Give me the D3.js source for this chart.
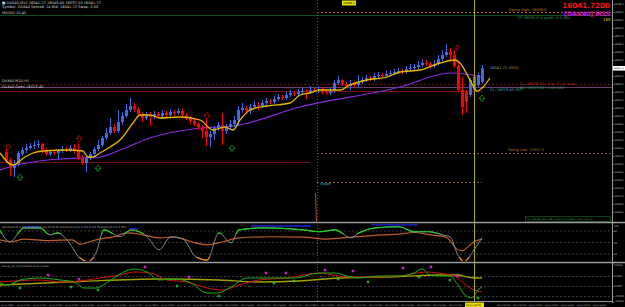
<!DOCTYPE html>
<html>
<head>
<meta charset="utf-8">
<script src="https://cdn.jsdelivr.net/npm/d3@7"></script>
<style>
  body { margin: 0; background: #000; }
  svg { display: block; }
  text { font-family: "DejaVu Sans", sans-serif; }
</style>
</head>
<body>
<div id="chart"></div>
<script>
// DAX40 M15 candles
const opens  = [15958,15950,15942,15946,15956,15960,15962,15964,15965,15966,15960,15956,15958,15957,15959,15961,15960,15962,15960,15952,
                15947,15952,15956,15961,15965,15972,15977,15983,15979,15988,15994,16000,16004,16001,15996,15992,15995,15993,15996,15994,
                15997,15995,15998,15997,15999,15995,15992,15989,15986,15983,15979,15973,15976,15982,15985,15979,15983,15986,15990,16000,
                16002,15999,16003,16005,16004,16007,16009,16008,16011,16013,16012,16015,16017,16016,16018,16019,16018,16020,16019,16021,
                16018,16017,16019,16027,16030,16026,16024,16026,16025,16028,16030,16032,16031,16034,16035,16034,16036,16037,16038,16039,
                16038,16041,16042,16043,16045,16047,16046,16044,16046,16051,16055,16058,16055,16044,16020,16018,16015,16020,16025,16028];
const highs  = [15961,15952,15950,15959,15963,15966,15967,15969,15970,15967,15962,15960,15960,15961,15964,15963,15965,15966,15967,15955,
                15954,15958,15963,15970,15974,15982,15992,15986,16000,15998,16006,16012,16007,16003,15998,15998,15998,15999,15998,16000,
                15999,16001,16000,16002,16001,15997,15994,15991,15988,15985,15992,15979,15984,15988,15997,15986,15990,15994,16004,16007,
                16004,16006,16009,16008,16010,16012,16011,16014,16016,16015,16018,16020,16019,16021,16022,16021,16024,16022,16024,16023,
                16020,16022,16030,16034,16031,16028,16030,16028,16035,16033,16035,16034,16037,16038,16037,16039,16040,16041,16042,16041,
                16044,16046,16046,16049,16051,16050,16048,16050,16055,16060,16066,16062,16060,16047,16033,16020,16032,16035,16037,16045];
const lows   = [15947,15934,15933,15944,15954,15957,15960,15961,15962,15957,15954,15954,15955,15950,15957,15958,15958,15957,15950,15945,
                15938,15950,15953,15959,15963,15970,15975,15977,15977,15985,15992,15998,15998,15994,15988,15990,15984,15991,15992,15992,
                15993,15993,15994,15995,15993,15990,15986,15984,15980,15972,15964,15963,15970,15979,15965,15976,15980,15983,15984,15997,
                15996,15996,16001,16000,16002,16005,16006,16006,16009,16010,16010,16013,16014,16014,16016,16011,16016,16018,16017,16016,
                16015,16015,16017,16025,16024,16022,16020,16023,16023,16026,16028,16029,16029,16032,16032,16032,16034,16035,16036,16036,
                16036,16039,16040,16041,16043,16044,16042,16042,16044,16049,16053,16050,16042,16018,15995,15997,16013,16018,16023,16026];
const closes = [15950,15942,15946,15957,15960,15962,15964,15965,15966,15960,15956,15958,15957,15959,15961,15960,15962,15960,15952,15947,
                15952,15956,15961,15965,15972,15977,15983,15979,15988,15994,16000,16004,16001,15996,15992,15995,15993,15996,15994,15997,
                15995,15998,15997,15999,15995,15992,15989,15986,15983,15979,15973,15976,15982,15985,15979,15983,15986,15990,16000,16002,
                15999,16003,16005,16004,16007,16009,16008,16011,16013,16012,16015,16017,16016,16018,16019,16018,16020,16019,16021,16018,
                16017,16019,16027,16030,16026,16024,16026,16025,16028,16030,16032,16031,16034,16035,16034,16036,16037,16038,16039,16038,
                16041,16042,16043,16045,16047,16046,16044,16046,16051,16055,16058,16055,16044,16020,16003,16008,16030,16033,16035,16041.72];

// moving averages: [bar index, price]
const fastMa = [[-1.5,15957],[1.75,15945],[4.75,15953],[6.75,15957],[9.25,15959],[15.25,15960],[19.25,15959],[20.5,15953],
                [21.75,15953],[23.5,15957],[26,15963],[28.5,15970],[31.75,15987],[33.5,15995],[36,15995],[38.5,15992],
                [43.5,15993],[48.5,15990],[51.75,15980],[54.75,15983],[56.75,15980],[58.5,15990],[61,16000],[65.25,16004],
                [71,16007],[73.5,16015],[76,16017],[78.5,16020],[83.5,16020],[86,16025],[90.25,16030],[95.25,16033],
                [98.5,16038],[103.5,16040],[108.5,16047],[112.25,16050],[113.5,16047],[116,16030],[117.75,16019],[119.25,16023],[121,16032]];
const slowMa = [[-1.5,15940],[2.75,15945],[6.75,15948],[13.5,15951],[19.25,15952],[23.5,15953],[28.5,15960],[36,15972],
                [48.5,15982],[56.75,15984],[73.5,16003],[98.5,16023],[111,16037],[114.75,16036],[119,16033]];

// price levels
const levelPrices = [16098, 16095, 16026, 16023, 16019, 15957, 15948, 15928];
const priceTicks = [16106,16098,16090,16082,16074,16066,16058,16050,16042,16034,16026,16018,16010,16002,
                    15994,15986,15978,15970,15962,15954,15946,15938,15930,15922,15914,15906,15898];

// arrows on the main chart: [bar index, price]
const downArrows = [[0.5,15963],[18.25,15971],[50.25,15994]];
const upArrows   = [[3.5,15933],[23,15942],[56.5,15962],[119,16012]];

// stochastic: [bar index, value]
const stochK = [[-1.5,81],[1,52],[4.5,88],[8.5,88],[11,70],[13,75],[15,60],[18.5,10],[20.5,0],[22.5,23],[24.5,83],
                [28.5,65],[31.25,83],[35.25,65],[38.25,31],[41.25,65],[44.25,59],[47.25,15],[50.25,4],[53.25,75],
                [56.25,49],[58.25,83],[64.25,88],[74.25,83],[78.25,78],[82.25,83],[86.25,62],[88.25,75],[92.25,88],
                [98.25,91],[102,78],[106,78],[109,70],[111,65],[113,17],[114.5,0],[117,31],[119,62]];
const stochD = [[-1.5,57],[1.5,52],[4.5,59],[10.5,55],[16.5,57],[18.5,46],[22.5,57],[26.5,64],[30.5,75],[34.25,70],
                [38.25,62],[42.25,64],[46.25,52],[50.25,44],[54.25,52],[58.25,62],[66.25,65],[74.25,64],[80.25,59],
                [86.25,64],[94.25,70],[98.25,72],[102,76],[106,70],[110,64],[113,31],[114,29],[117,52],[119,59]];
const stochTop = [[[4.5,91],[8.5,91]],[[31,86],[33,86]],[[61.25,93],[76.25,93]],[[91.25,96],[103,96]]];
const stochTicks = [20, 50, 80, 100];

// energy oscillator: [bar index, value]
const energyFast = [[-1.5,0.0006],[0.5,0.0002],[3.5,0.0012],[8.5,0.0016],[13.5,0.0012],[17,0.0008],[19.5,-0.0004],
                    [22.5,-0.0004],[25.5,0.0008],[28.5,0.0024],[32,0.0034],[35.25,0.0028],[38.25,0.0012],[42.25,0.0014],
                    [46.25,0.0006],[50.25,-0.0014],[52.75,-0.0014],[56.25,-0.0002],[60.25,0.0016],[66.25,0.0016],
                    [72.25,0.0016],[78.25,0.0026],[82.25,0.0026],[85.25,0.002],[88.25,0.0016],[93.25,0.002],[98.25,0.002],
                    [102,0.0026],[104,0.0034],[106,0.0022],[109,0.002],[111,0.002],[113,0.0002],[115,-0.002],[116.5,-0.0024],
                    [118,-0.0008],[119,-0.0002]];
const energySignal = [[-1.5,0.0008],[8.5,0.0012],[13.5,0.0008],[18.5,0.001],[23.5,0.0016],[28.5,0.0022],[32.25,0.0028],
                      [36.25,0.0026],[40.25,0.0012],[45.25,0.0008],[50.25,-0.0004],[54.25,-0.0008],[58.25,0.0002],
                      [63.25,0.0012],[70.25,0.0016],[78.25,0.0026],[83.25,0.002],[88.25,0.0018],[98.25,0.002],[105,0.0028],
                      [108,0.0026],[112,0.002],[114,0.0008],[117,-0.0008],[119,-0.0012]];
const energySlow = [[-1.5,0.0002],[18.5,0.0009],[38.25,0.0014],[53.25,0.0012],[63.25,0.0008],[73.25,0.001],[83.25,0.0016],
                    [98.25,0.0019],[108,0.0022],[113,0.0022],[116,0.0017],[119,0.0016]];
const energyBuy  = [[3.5,-0.0004],[16.25,-0.0002],[23,-0.0008],[42.75,0],[53.25,-0.002],[67,0.0006],[72,0.001],
                    [83,0.0014],[90.5,0.0008],[103.25,0.0018],[111,0.0012],[118,-0.0024]];
const energySell = [[10.5,0.0022],[18.25,0.0014],[34.75,0.0038],[45.75,0.0018],[65,0.0026],[70,0.0026],[79.75,0.0032],
                    [86.75,0.003],[99.25,0.0036],[106.25,0.0038],[113,0.002]];
const energyTicks = [0.0046, 0.002, 0, -0.002, -0.0032];

// time axis
const timeLabels = ["11 Jan 2023","11 Jan 10:00","11 Jan 11:00","11 Jan 12:00","11 Jan 13:00","11 Jan 14:00","11 Jan 15:00",
                    "11 Jan 16:00","11 Jan 17:00","11 Jan 18:00","11 Jan 19:00","11 Jan 20:00","11 Jan 21:00","12 Jan 02:00",
                    "12 Jan 03:00","12 Jan 04:00","12 Jan 05:00","12 Jan 06:00","12 Jan 07:00","12 Jan 08:00","12 Jan 09:00",
                    "12 Jan 10:00","12 Jan 11:00","12 Jan 12:00","12 Jan 13:00","12 Jan 14:00","12 Jan 15:00","12 Jan 16:00",
                    "12 Jan 17:00","12 Jan 18:00","12 Jan 19:00","12 Jan 20:00","12 Jan 21:00","13 Jan 02:00","13 Jan 03:00",
                    "13 Jan 04:00","13 Jan 05:00","13 Jan 06:00"];
const cursorLabel = "13 Jan 05:45";
const sessionIdx = 77.75, cursorIdx = 117;

const W = 625, H = 307, AX = 612;
const svg = d3.select('#chart').append('svg')
    .attr('width', W).attr('height', H)
    .style('background', '#000');

const x = d3.scaleLinear().domain([-1.5, 151.5]).range([0, AX]);
const y = d3.scaleLinear().domain([15888, 16110]).range([222, 0]);
const yS = d3.scaleLinear().domain([0, 100]).range([261.7, 223.3]);
const yE = d3.scaleLinear().domain([-0.0032, 0.0046]).range([302, 263]);

const defs = svg.append('defs');
[['clipMain', 0, 222], ['clipStoch', 223, 38], ['clipEnergy', 263, 38]].forEach(c => {
    defs.append('clipPath').attr('id', c[0]).append('rect')
        .attr('x', 0).attr('y', c[1]).attr('width', AX).attr('height', c[2]);
});

const main = svg.append('g').attr('clip-path', 'url(#clipMain)');

// level lines
const levelStyle = [
    {c: '#b5651d', d: '2,2', x0: 317, x1: AX},
    {c: '#0d4d1f', d: null, x0: 0, x1: AX},
    {c: '#7a1010', d: '2,2', x0: 0, x1: AX},
    {c: '#6a3a6a', d: null, x0: 0, x1: AX},
    {c: '#7a1010', d: null, x0: 0, x1: 482},
    {c: '#8a5a10', d: '2,2', x0: 317, x1: AX},
    {c: '#6a0f0f', d: null, x0: 0, x1: 310},
    {c: '#8a5a10', d: '2,2', x0: 317, x1: 482}
];
main.selectAll('.level').data(levelPrices).enter().append('line')
    .attr('x1', (d, i) => levelStyle[i].x0).attr('x2', (d, i) => levelStyle[i].x1)
    .attr('y1', d => Math.round(y(d)) + 0.5).attr('y2', d => Math.round(y(d)) + 0.5)
    .attr('stroke', (d, i) => levelStyle[i].c)
    .attr('stroke-dasharray', (d, i) => levelStyle[i].d);

// vertical markers
svg.append('line').attr('x1', Math.round(x(sessionIdx)) + 0.5).attr('x2', Math.round(x(sessionIdx)) + 0.5)
    .attr('y1', 0).attr('y2', 301).attr('stroke', '#555').attr('stroke-dasharray', '1,2');
main.append('line').attr('x1', 315.5).attr('x2', 316.5).attr('y1', 193).attr('y2', 222)
    .attr('stroke', '#a0521e');

// moving averages
const maLine = d3.line().x(d => x(d[0])).y(d => y(d[1])).curve(d3.curveMonotoneX);
main.append('path').attr('d', maLine(slowMa)).attr('fill', 'none').attr('stroke', '#8a2be2').attr('stroke-width', 1.2);

// candles
const idx = d3.range(closes.length);
const bull = i => closes[i] >= opens[i];
main.selectAll('.wick').data(idx).enter().append('line')
    .attr('x1', i => Math.round(x(i)) + 0.5).attr('x2', i => Math.round(x(i)) + 0.5)
    .attr('y1', i => y(highs[i])).attr('y2', i => y(lows[i]))
    .attr('stroke', i => bull(i) ? '#4169e1' : '#ff0000');
main.selectAll('.body').data(idx).enter().append('rect')
    .attr('x', i => Math.round(x(i)) - 1)
    .attr('y', i => y(Math.max(opens[i], closes[i])))
    .attr('width', 3)
    .attr('height', i => Math.max(1, Math.abs(y(opens[i]) - y(closes[i]))))
    .attr('fill', i => bull(i) ? '#4169e1' : '#ff0000');

main.append('path').attr('d', maLine(fastMa)).attr('fill', 'none').attr('stroke', '#e8b800').attr('stroke-width', 1.3);

// arrows
const arrowShape = 'M-1.2,-3 h2.4 v2.5 h1.8 l-3,3.5 l-3,-3.5 h1.8 z';
main.selectAll('.dn').data(downArrows).enter().append('path')
    .attr('d', arrowShape).attr('transform', d => `translate(${x(d[0])},${y(d[1])})`)
    .attr('fill', 'none').attr('stroke', '#b01010').attr('stroke-width', 0.8);
main.selectAll('.up').data(upArrows).enter().append('path')
    .attr('d', arrowShape).attr('transform', d => `translate(${x(d[0])},${y(d[1])}) rotate(180)`)
    .attr('fill', 'none').attr('stroke', '#1a9a2a').attr('stroke-width', 0.8);
main.append('text').attr('x', 457).attr('y', 50).attr('fill', '#c01010')
    .attr('font-size', 7).attr('text-anchor', 'middle').text('0');

// texts on the main chart
const small = (g, tx, ty, t, c, fs) => g.append('text').attr('x', tx).attr('y', ty)
    .attr('fill', c).attr('font-size', fs || 3.6).text(t);
small(svg, 2, 4, '\u25A0 DAX40,M15  16041.72 16049.40 16037.50 16041.72', '#cfcfcf');
small(svg, 2, 8, 'Symbol: DAX40 Spread: 14 Bid: 16041.72 Swap: 0.00', '#cfcfcf');
small(svg, 2, 14, 'MA(50) 15,45', '#cfcfcf');
small(svg, 2, 82, 'DAX40,M15,H1', '#cfcfcf');
small(svg, 2, 87.5, 'DAX40 Open 16023.40', '#cfcfcf');
small(svg, 509, 11, 'Swing High: 16098.0', '#c07a20');
small(svg, 517, 18.5, 'TP: 16095.0 in profit: 0.0 Lots', '#22a050');
small(svg, 490, 69, '16041.72 (M15)', '#9a9a9a');
small(svg, 490, 90.5, 'S1: 16019.40 (R2)', '#3aa0c0');
small(svg, 520, 84.5, 'SL: 16026.10 | Lots: 0.10 (loss)', '#c02020');
small(svg, 520, 89, 'BE: 16023.00 | 0.00 USD', '#22a050');
small(svg, 508, 151, 'Swing Low: 15957.0', '#b07020');
small(svg, 320, 185, 'Swipe', '#30b0c0');
svg.append('rect').attr('x', 342).attr('y', 0.5).attr('width', 14).attr('height', 5).attr('fill', '#e8e000');
small(svg, 343, 4.3, '16098.0', '#000', 2.8);

svg.append('rect').attr('x', 525.5).attr('y', 216.5).attr('width', 85).attr('height', 5)
    .attr('fill', 'none').attr('stroke', '#1e6a2a').attr('stroke-width', 0.6);
small(svg, 527, 220.2, 'SL: 15928 | RR: 1.85 | Lots: 0.10 | Risk: 1.2% | 15.00', '#2fb040', 2.5);

svg.append('text').attr('x', 610).attr('y', 8).attr('text-anchor', 'end')
    .attr('fill', '#ff1010').attr('font-size', 7.2).attr('font-weight', 'bold').text('16041.7200');
svg.append('text').attr('x', 610).attr('y', 15.5).attr('text-anchor', 'end')
    .attr('fill', '#e010e0').attr('font-size', 6.2).attr('font-weight', 'bold').text('[DAX40] M15');
small(svg, 603, 21, '185', '#c8c800', 4);

// stochastic panel
const stoch = svg.append('g').attr('clip-path', 'url(#clipStoch)');
stoch.selectAll('.lvl').data([20, 50, 80]).enter().append('line')
    .attr('x1', 0).attr('x2', AX).attr('y1', d => yS(d)).attr('y2', d => yS(d))
    .attr('stroke', '#3a3a3a').attr('stroke-dasharray', '2,2');
const sLine = d3.line().x(d => x(d[0])).y(d => yS(d[1])).curve(d3.curveMonotoneX);
stoch.append('path').attr('d', sLine(stochD)).attr('fill', 'none').attr('stroke', '#c05a28').attr('stroke-width', 1.2);
stoch.append('path').attr('d', sLine(stochK)).attr('fill', 'none').attr('stroke', '#7a8a96').attr('stroke-width', 1);
['hi', 'lo'].forEach(k => {
    stoch.append('clipPath').attr('id', 'cz' + k).append('rect')
        .attr('x', 0).attr('width', AX)
        .attr('y', k === 'hi' ? 222 : yS(12)).attr('height', k === 'hi' ? yS(72) - 222 : 20);
    stoch.append('path').attr('d', sLine(stochK)).attr('clip-path', `url(#cz${k})`)
        .attr('fill', 'none').attr('stroke', k === 'hi' ? '#20d020' : '#ff8c00').attr('stroke-width', 1.2);
});
stochTop.forEach(seg => stoch.append('path').attr('d', sLine(seg)).attr('fill', 'none')
    .attr('stroke', '#2020e0').attr('stroke-width', 1.3));
small(svg, 2, 227.5, 'Stochastic(5,3,3) 1.23 Stoch(8) 61.38 58.92 Stochastic(14,3,3) 64.11 59.70 Stoch(21) 62.4 59.1', '#b0b0b0', 2.6);

// energy panel
const energy = svg.append('g').attr('clip-path', 'url(#clipEnergy)');
energy.selectAll('.lvl').data([0.002, 0, -0.002]).enter().append('line')
    .attr('x1', 0).attr('x2', AX).attr('y1', d => Math.round(yE(d)) + 0.5).attr('y2', d => Math.round(yE(d)) + 0.5)
    .attr('stroke', '#3a3a3a').attr('stroke-dasharray', '2,2');
const eLine = d3.line().x(d => x(d[0])).y(d => yE(d[1])).curve(d3.curveMonotoneX);
energy.append('path').attr('d', eLine(energySlow)).attr('fill', 'none').attr('stroke', '#a0a000').attr('stroke-width', 1.3);
energy.append('path').attr('d', eLine(energySignal)).attr('fill', 'none').attr('stroke', '#d01010').attr('stroke-width', 1);
energy.append('path').attr('d', eLine(energyFast)).attr('fill', 'none').attr('stroke', '#18b018').attr('stroke-width', 1);
const plus = 'M-1.5,0 H1.5 M0,-1.5 V1.5';
energy.selectAll('.buy').data(energyBuy).enter().append('path').attr('d', plus)
    .attr('transform', d => `translate(${x(d[0])},${yE(d[1])})`).attr('stroke', '#20d040').attr('stroke-width', 1);
energy.selectAll('.sell').data(energySell).enter().append('path').attr('d', plus)
    .attr('transform', d => `translate(${x(d[0])},${yE(d[1])})`).attr('stroke', '#ff30ff').attr('stroke-width', 1);
small(svg, 2, 267, 'Energy_Mo_SY(0.0005,60,60,9) 0.0016', '#b0b0b0', 2.4);

// cursor line
svg.append('line').attr('x1', Math.round(x(cursorIdx)) + 0.5).attr('x2', Math.round(x(cursorIdx)) + 0.5)
    .attr('y1', 0).attr('y2', 302).attr('stroke', '#a8a820');

// panel separators and axis
[222.5, 262.5].forEach(sy => svg.append('line').attr('x1', 0).attr('x2', W).attr('y1', sy).attr('y2', sy)
    .attr('stroke', '#9a9a9a').attr('stroke-width', 1.5));
svg.append('line').attr('x1', AX + 0.5).attr('x2', AX + 0.5).attr('y1', 0).attr('y2', 302).attr('stroke', '#9a9a9a');
svg.append('line').attr('x1', 0).attr('x2', AX).attr('y1', 301.5).attr('y2', 301.5).attr('stroke', '#9a9a9a');

const axisG = svg.append('g').attr('transform', `translate(${AX},0)`);
axisG.call(d3.axisRight(y).tickValues(priceTicks).tickSize(1.5).tickFormat(d3.format('.1f')));
const axisS = svg.append('g').attr('transform', `translate(${AX},0)`);
axisS.call(d3.axisRight(yS).tickValues(stochTicks).tickSize(1.5).tickFormat(d => d));
const axisE = svg.append('g').attr('transform', `translate(${AX},0)`);
axisE.call(d3.axisRight(yE).tickValues(energyTicks).tickSize(1.5).tickFormat(d3.format('.4f')));
[axisG, axisS, axisE].forEach(g => {
    g.select('.domain').remove();
    g.selectAll('line').attr('stroke', '#9a9a9a');
    g.selectAll('text').attr('fill', '#c0c0c0').attr('font-size', 2.3).attr('x', 2)
        .attr('font-family', 'DejaVu Sans');
});
axisE.selectAll('.tick').filter(d => d === energyTicks[0]).select('text').attr('dy', '1.3em');
axisE.selectAll('.tick').filter(d => d === energyTicks[energyTicks.length - 1]).select('text').attr('dy', '-0.3em');
axisS.selectAll('.tick').filter(d => d === 100).select('text').attr('dy', '1.2em');

// current price marker
const lastY = y(closes[closes.length - 1]);
axisG.selectAll('.tick').filter(d => Math.abs(y(d) - lastY) < 4).remove();
svg.append('rect').attr('x', AX + 1).attr('y', lastY - 2.3).attr('width', 12).attr('height', 4.6).attr('fill', '#fff');
small(svg, AX + 1.5, lastY + 0.9, '16041.72', '#000', 2.2);

// time axis
const tx = d3.scaleLinear().domain([0, timeLabels.length]).range([1, 609]);
const shownTimes = timeLabels.map((t, i) => [t, i]).filter(p => Math.abs(tx(p[1]) + 7 - x(cursorIdx)) > 16);
svg.selectAll('.tl').data(shownTimes).enter().append('text')
    .attr('x', d => tx(d[1])).attr('y', 305.5)
    .attr('fill', '#c0c0c0').attr('font-size', 2.1).text(d => d[0]);
svg.append('rect').attr('x', x(cursorIdx) - 9).attr('y', 302.5).attr('width', 19).attr('height', 4.5).attr('fill', '#e8e000');
small(svg, x(cursorIdx) - 8.3, 305.9, cursorLabel, '#000', 2.4);
</script>
</body>
</html>
